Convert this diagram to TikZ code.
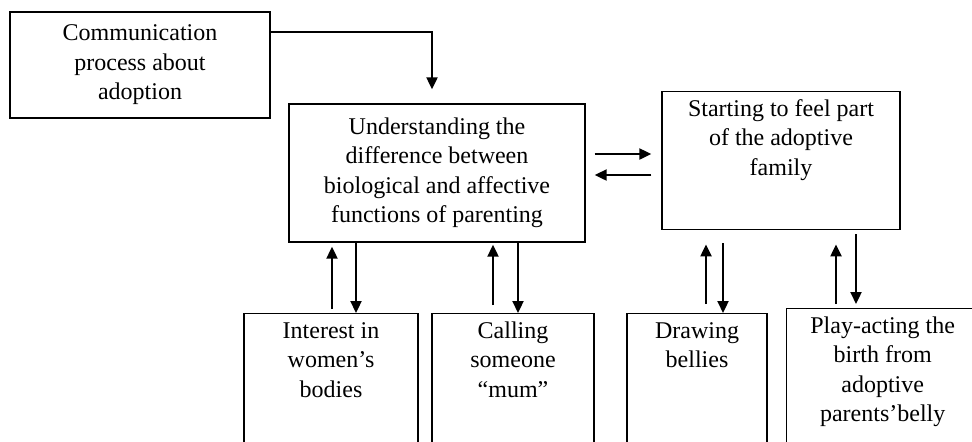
\documentclass[tikz,border=0pt]{standalone}
\usepackage{fontspec}
\setmainfont{Liberation Serif}
\usepackage{tikz}
\usetikzlibrary{arrows.meta}
\newcommand{\boxtext}[3]{\parbox[c][#2][t]{#1}{\centering\vspace*{2pt}\strut #3\par}}

\begin{document}
\begin{tikzpicture}[x=0.5pt, y=-0.5pt, font=\fontsize{12}{14.75}\selectfont,
  cbox/.style={draw, line width=0.7pt, align=center, inner sep=0pt},
  tbox/.style={draw, line width=0.7pt, inner sep=0pt, anchor=north},
  arr/.style={-{Triangle[length=6pt,width=5.5pt]}, line width=1.1pt}]
\useasboundingbox (0,0) rectangle (972,441);
\clip (0,0) rectangle (972,441);
\node[cbox, minimum width=130pt, minimum height=53pt] (comm) at (140,65) {Communication\\process about\\adoption};
\node[cbox, minimum width=148pt, minimum height=69pt] (underst) at (437,173) {Understanding the\\difference between\\biological and affective\\functions of parenting};
\node[tbox] (feel) at (781,91) {\boxtext{119pt}{69pt}{Starting to feel part\\of the adoptive\\family}};
\node[tbox] (interest) at (331,313) {\boxtext{87pt}{75pt}{Interest in\\women's\\bodies}};
\node[tbox] (calling) at (513,313) {\boxtext{81pt}{75pt}{Calling\\someone\\``mum''}};
\node[tbox] (drawing) at (697,313) {\boxtext{70pt}{75pt}{Drawing\\bellies}};
\node[tbox, anchor=north west] (playact) at (786,308) {\boxtext{96pt}{80pt}{Play-acting the\\birth from\\adoptive\\parents'belly}};
\draw[arr] ([yshift=16.5pt]comm.east) -| ([xshift=-2.5pt,yshift=7pt]underst.north);
\draw[arr, shorten <=4.5pt, shorten >=5pt] (underst.east |- 0,154) -- (feel.west |- 0,154);
\draw[arr, shorten <=5pt, shorten >=4.5pt] (feel.west |- 0,175) -- (underst.east |- 0,175);
% links below the two upper boxes
\draw[arr, shorten <=2pt, shorten >=2pt] (332,0 |- interest.north) -- (332,0 |- underst.south);
\draw[arr] (356,0 |- underst.south) -- (356,0 |- interest.north);
\draw[arr, shorten <=4pt, shorten >=1pt] (493,0 |- calling.north) -- (493,0 |- underst.south);
\draw[arr] (518,0 |- underst.south) -- (518,0 |- calling.north);
\draw[arr, shorten <=4.5pt, shorten >=7pt] (706,0 |- drawing.north) -- (706,0 |- feel.south);
\draw[arr, shorten <=6.5pt] (723,0 |- feel.south) -- (723,0 |- drawing.north);
\draw[arr, shorten <=2pt, shorten >=7pt] (836,0 |- playact.north) -- (836,0 |- feel.south);
\draw[arr, shorten <=2pt, shorten >=2pt] (856,0 |- feel.south) -- (856,0 |- playact.north);
\end{tikzpicture}
\end{document}
